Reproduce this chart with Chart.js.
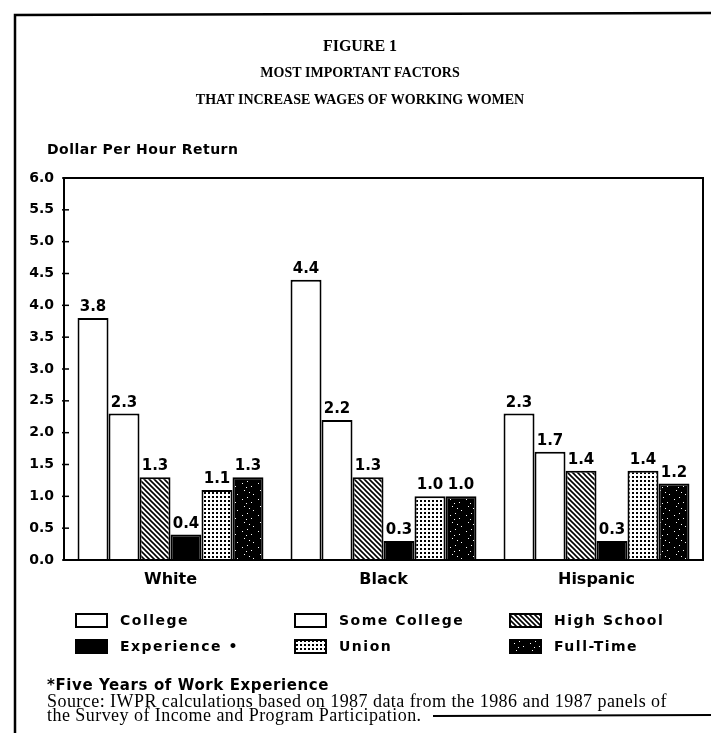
<!DOCTYPE html>
<html>
<head>
<meta charset="utf-8">
<script src="https://cdn.jsdelivr.net/npm/chart.js@4/dist/chart.umd.min.js"></script>
<style>
  html, body { margin: 0; padding: 0; background: #fff; }
  #wrap { position: relative; width: 711px; height: 733px; }
</style>
</head>
<body>
<div id="wrap"><canvas id="c" width="711" height="733"></canvas></div>
<script>
// ---- data ----
const categories = ["White", "Black", "Hispanic"];
const seriesNames = ["College", "Some College", "High School", "Experience \u2022", "Union", "Full-Time"];
const college      = [3.8, 4.4, 2.3];
const someCollege  = [2.3, 2.2, 1.7];
const highSchool   = [1.3, 1.3, 1.4];
const experience   = [0.4, 0.3, 0.3];
const union        = [1.1, 1.0, 1.4];
const fullTime     = [1.3, 1.0, 1.2];
const yTicks = [0, 0.5, 1, 1.5, 2, 2.5, 3, 3.5, 4, 4.5, 5, 5.5, 6];

const titleLines = ["FIGURE 1", "MOST IMPORTANT FACTORS", "THAT INCREASE WAGES OF WORKING WOMEN"];
const yAxisTitle = "Dollar Per Hour Return";
const footNote = "*Five Years of Work Experience";
const sourceLines = [
  "Source: IWPR calculations based on 1987 data from the 1986 and 1987 panels of",
  "the Survey of Income and Program Participation."
];

// ---- patterns ----
function makePattern(kind) {
  const t = document.createElement('canvas');
  const g = t.getContext('2d');
  if (kind === 'hatch') {
    t.width = 5; t.height = 5;
    g.fillStyle = '#fff'; g.fillRect(0, 0, 5, 5);
    g.strokeStyle = '#000'; g.lineWidth = 1.6;
    g.beginPath();
    g.moveTo(-1, -1); g.lineTo(6, 6);
    g.moveTo(-6, -1); g.lineTo(1, 6);
    g.moveTo(4, -1); g.lineTo(11, 6);
    g.stroke();
  } else if (kind === 'dots') {
    t.width = 4; t.height = 4;
    g.fillStyle = '#fff'; g.fillRect(0, 0, 4, 4);
    g.fillStyle = '#000'; g.fillRect(0, 0, 2, 2);
  } else if (kind === 'speck') {
    t.width = 16; t.height = 16;
    g.fillStyle = '#000'; g.fillRect(0, 0, 16, 16);
    g.fillStyle = '#fff';
    [[2,3],[7,1],[11,6],[4,10],[9,12],[13,14],[6,7]].forEach(p => g.fillRect(p[0], p[1], 1, 1));
  }
  const ctx = document.getElementById('c').getContext('2d');
  return ctx.createPattern(t, 'repeat');
}
const fills = ['#ffffff', '#ffffff', makePattern('hatch'), '#000000', makePattern('dots'), makePattern('speck')];
const seriesData = [college, someCollege, highSchool, experience, union, fullTime];

const SANS = '"DejaVu Sans", sans-serif';
const SERIF = '"Liberation Serif", "DejaVu Serif", serif';

function spaced(ctx, px) { if ('letterSpacing' in ctx) ctx.letterSpacing = px + 'px'; }

const decor = {
  id: 'decor',
  afterDraw(chart) {
    const ctx = chart.ctx;
    const a = chart.chartArea;
    const ys = chart.scales.y;
    ctx.save();
    // outer frame
    ctx.strokeStyle = '#000';
    ctx.lineWidth = 2.5;
    ctx.beginPath();
    ctx.moveTo(15, 733); ctx.lineTo(15, 15); ctx.lineTo(711, 13);
    ctx.stroke();
    ctx.lineWidth = 2;
    ctx.beginPath();
    ctx.moveTo(433, 716); ctx.lineTo(711, 715);
    ctx.stroke();
    // plot box
    ctx.lineWidth = 2;
    ctx.strokeRect(a.left, a.top, a.right - a.left, a.bottom - a.top);
    // inward ticks
    ctx.lineWidth = 1.5;
    yTicks.forEach(v => {
      const py = ys.getPixelForValue(v);
      ctx.beginPath(); ctx.moveTo(a.left - 2, py); ctx.lineTo(a.left + 5, py); ctx.stroke();
    });
    // value labels
    ctx.fillStyle = '#000';
    ctx.font = 'bold 15px ' + SANS;
    ctx.textAlign = 'center';
    ctx.textBaseline = 'alphabetic';
    chart.data.datasets.forEach((ds, i) => {
      const meta = chart.getDatasetMeta(i);
      meta.data.forEach((bar, j) => {
        ctx.fillText(ds.data[j].toFixed(1), bar.x, bar.y - 7);
      });
    });
    // titles
    ctx.textBaseline = 'middle';
    ctx.font = 'bold 16px ' + SERIF;
    ctx.fillText(titleLines[0], 360, 47);
    ctx.font = 'bold 14px ' + SERIF;
    ctx.fillText(titleLines[1], 360, 73);
    ctx.fillText(titleLines[2], 360, 100);
    // y axis title
    ctx.textAlign = 'left';
    ctx.font = 'bold 14px ' + SANS;
    spaced(ctx, 0.5);
    ctx.fillText(yAxisTitle, 47, 150);
    // legend
    const colX = [76, 295, 510];
    const rowY = [620, 646];
    spaced(ctx, 1.5);
    chart.data.datasets.forEach((ds, i) => {
      const cx = colX[i % 3], cy = rowY[Math.floor(i / 3)];
      ctx.fillStyle = ds.backgroundColor;
      ctx.fillRect(cx, cy - 6, 31, 13);
      ctx.strokeStyle = '#000'; ctx.lineWidth = 2;
      ctx.strokeRect(cx, cy - 6, 31, 13);
      ctx.fillStyle = '#000';
      ctx.font = 'bold 14px ' + SANS;
      ctx.fillText(ds.label, cx + 44, cy + 1);
    });
    // footnotes
    spaced(ctx, 0.6);
    ctx.font = 'bold 15px ' + SANS;
    ctx.fillText(footNote, 47, 686);
    spaced(ctx, 0.45);
    ctx.font = '18px ' + SERIF;
    ctx.fillText(sourceLines[0], 47, 702);
    ctx.fillText(sourceLines[1], 47, 716);
    ctx.restore();
  }
};

new Chart(document.getElementById('c'), {
  type: 'bar',
  data: {
    labels: categories,
    datasets: seriesNames.map((name, i) => ({
      label: name,
      data: seriesData[i],
      backgroundColor: fills[i],
      borderColor: '#000',
      borderWidth: 2,
      borderSkipped: 'bottom',
      barPercentage: 1,
      categoryPercentage: 0.873
    }))
  },
  options: {
    responsive: false,
    devicePixelRatio: 1,
    animation: false,
    layout: { padding: { top: 178, right: 8, left: 0, bottom: 0 } },
    plugins: { legend: { display: false }, title: { display: false }, tooltip: { enabled: false } },
    scales: {
      x: {
        grid: { display: false, drawTicks: false },
        border: { display: false },
        ticks: { color: '#000', font: { family: SANS, size: 16, weight: 'bold' }, padding: 10 },
        afterFit(s) { s.height = 733 - 560; }
      },
      y: {
        min: 0, max: 6,
        grid: { display: false, drawTicks: false },
        border: { display: false },
        afterBuildTicks(s) { s.ticks = yTicks.map(v => ({ value: v })); },
        ticks: {
          color: '#000', padding: 10,
          font: { family: SANS, size: 14, weight: 'bold' },
          callback: v => Number(v).toFixed(1)
        },
        afterFit(s) { s.width = 64; }
      }
    }
  },
  plugins: [decor]
});
</script>
</body>
</html>
